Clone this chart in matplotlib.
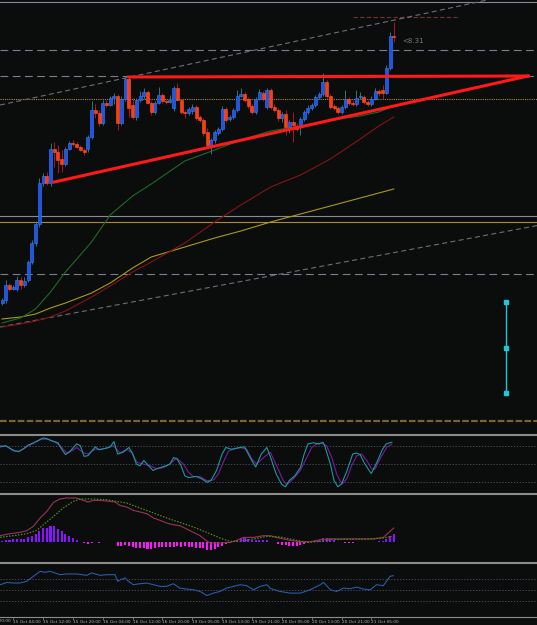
import matplotlib
matplotlib.use("Agg")
import matplotlib.pyplot as plt
import numpy as np

opens = [303, 300, 285, 289, 289, 280, 285, 280, 262, 243,
         224, 183, 176, 183, 149, 152, 159, 164, 149, 143,
         144, 147, 150, 149, 137, 110, 113, 123, 103, 105,
         98, 96, 123, 99, 79, 105, 117, 100, 96, 92,
         103, 112, 103, 95, 101, 102, 108, 88, 100, 112,
         113, 111, 107, 117, 120, 132, 145, 140, 133, 129,
         109, 119, 117, 110, 96, 94, 99, 106, 112, 99,
         93, 107, 90, 107, 110, 118, 114, 127, 122, 126,
         127, 119, 112, 108, 105, 97, 94, 82, 96, 106,
         108, 112, 107, 99, 103, 104, 97, 97, 102, 104,
         99, 91, 90, 93, 68, 36]
closes = [300, 285, 289, 287, 280, 285, 281, 262, 243, 224,
          183, 176, 183, 149, 152, 160, 164, 149, 143, 144,
          147, 150, 152, 137, 110, 113, 123, 103, 105, 98,
          96, 123, 99, 79, 108, 117, 100, 96, 92, 103,
          112, 103, 95, 101, 102, 100, 88, 100, 112, 113,
          109, 107, 118, 120, 133, 145, 140, 132, 129, 109,
          120, 117, 110, 96, 94, 100, 106, 112, 99, 92,
          99, 90, 107, 110, 118, 114, 127, 122, 125, 129,
          119, 112, 108, 105, 97, 94, 82, 96, 107, 108,
          112, 107, 99, 103, 104, 98, 96, 102, 104, 99,
          91, 93, 93, 68, 36, 37]
highs = [298, 280, 283, 285, 276, 277, 277, 260, 240, 221,
         178, 173, 172, 143, 142, 145, 150, 147, 141, 140,
         142, 145, 148, 135, 101, 104, 110, 100, 100, 96,
         93, 94, 96, 76, 76, 98, 98, 91, 88, 90,
         101, 101, 87, 93, 99, 95, 86, 83, 99, 110,
         107, 104, 105, 115, 118, 128, 138, 130, 127, 106,
         107, 115, 108, 90, 88, 92, 97, 104, 97, 89,
         91, 88, 88, 104, 108, 112, 110, 120, 112, 123,
         117, 110, 105, 103, 95, 92, 73, 80, 94, 104,
         106, 105, 90, 97, 100, 90, 92, 95, 100, 96,
         88, 89, 85, 65, 32, 22]
lows = [305, 303, 291, 290, 291, 289, 287, 282, 264, 246,
        227, 186, 185, 186, 167, 173, 172, 166, 150, 146,
        148, 151, 155, 152, 139, 118, 126, 125, 107, 106,
        104, 130, 125, 101, 117, 119, 120, 102, 99, 104,
        115, 114, 104, 103, 104, 103, 111, 101, 114, 118,
        115, 114, 120, 122, 136, 148, 154, 143, 135, 131,
        122, 121, 119, 112, 97, 102, 108, 114, 114, 100,
        101, 109, 109, 112, 121, 122, 135, 133, 142, 131,
        135, 121, 114, 110, 107, 99, 96, 98, 109, 110,
        114, 114, 109, 105, 106, 106, 99, 104, 106, 106,
        100, 96, 99, 94, 70, 42]

tick_bars = [3, 11, 19, 27, 35, 43, 51, 59, 67, 75, 83, 91, 99]
tick_labels = ["15 Oct 04:00", "15 Oct 12:00", "15 Oct 20:00", "16 Oct 04:00",
               "16 Oct 12:00", "16 Oct 20:00", "19 Oct 05:00", "19 Oct 13:00",
               "19 Oct 21:00", "20 Oct 05:00", "20 Oct 13:00", "20 Oct 21:00",
               "21 Oct 05:00"]

# moving averages (bar, level)
ma_bars = [0, 5, 9, 13, 17, 24, 29, 35, 40, 49, 57, 64, 72, 80, 88, 96, 101, 105]
ma_fast = [323, 318, 309, 292, 272, 242, 215, 196, 184, 161, 150, 140, 131, 126, 120, 116, 112, 106]
ma_mid = [327, 324, 321, 317, 311, 297, 286, 272, 262, 243, 222, 205, 187, 175, 159, 139, 126, 117]
ma_slow = [319, 317, 314, 308, 303, 293, 283, 268, 257, 247, 238, 231, 222, 214, 206, 198, 193, 189]

# drawn objects (bar, level)
triangle_top = [(34, 77), (141, 76)]
triangle_low = [(14, 182), (141, 76)]
channel_up = [(0, 104.6), (120, 8.1)]
channel_low = [(0, 326.6), (140, 228)]
hl_gray_dash = [50, 76, 274]
hl_gray = [1.5, 216]
hl_orange = 222
hl_orange_dot = 99
hl_brown = 421
marker_bar = 135
marker_levels = [302, 348, 393]

# stochastic
stoch_x = [-0.5, 1, 2, 3.5, 4.5, 6, 7, 8.5, 10, 11, 12, 13, 15, 16, 17, 18, 20, 21, 22, 23,
           25, 26, 28, 29, 30, 31, 32.5, 34, 35, 36, 37, 38, 39, 40.5, 41.5, 42.5, 44, 45, 46, 47,
           48, 49, 50, 52, 53.5, 55, 56, 57.5, 59, 60, 61.5, 63, 65, 66, 67.5, 68, 69.5, 71, 72, 73.5,
           75, 76, 77, 78.5, 80, 81, 82, 83.5, 85, 86, 86.5, 88, 89, 90, 91, 92.5, 94, 95, 96, 97,
           98.5, 99, 100.5, 102, 103, 104.5]
stoch_main = [79, 81, 77, 72, 71, 77, 82, 86, 91, 94, 93, 90, 86, 75, 66, 70, 84, 81, 63, 64,
              79, 74, 77, 79, 88, 67, 70, 78, 68, 50, 47, 56, 49, 39, 42, 44, 47, 50, 61, 58,
              47, 30, 27, 29, 25, 19, 22, 39, 67, 78, 75, 77, 79, 67, 50, 45, 67, 78, 61, 33,
              15, 11.5, 22, 30, 44, 67, 84, 86, 84, 87, 81, 50, 22, 11.5, 16, 39, 67, 68.5, 66, 53,
              38, 34, 53, 75, 84, 87]
sig_x = [-0.5, 1.3, 3, 4.8, 6.6, 8.4, 10.6, 12.4, 14.2, 15.5, 17.3, 18.7, 20, 21.8, 23.1, 24.9, 26.3,
         28.1, 29.8, 31.6, 33.4, 34.8, 36.1, 37.9, 39.7, 41.5, 43.3, 45, 46.8, 48.6, 50, 51.3, 53.1,
         54.9, 56.7, 58, 59.3, 60.7, 62, 63.8, 65.6, 67, 68.3, 70.1, 71.9, 73.6, 75.4, 76.3, 78.1,
         79.9, 81.7, 83, 84.4, 85.7, 87, 88.4, 89.7, 91.1, 92.4, 93.7, 95.1, 96.4, 97.8, 99.1, 100,
         101.3, 103.1, 104.5]
stoch_sig = [81, 80, 72, 72, 79, 85, 92, 92, 87, 81, 69, 72, 78, 69, 67, 75, 75, 77, 81, 69,
             75, 69, 53, 50, 47, 42, 44, 50, 60, 50, 36, 28.6, 28.6, 21.8, 23, 33, 53, 72, 75, 78,
             75, 58, 50, 61, 70, 47, 21.8, 15, 25, 38.7, 61, 78, 83.9, 85, 81, 61, 33, 16, 24.6, 47,
             64, 67, 55.7, 41.5, 41.5, 58.5, 78, 83.9]

# MACD
macd_x = [-0.5, 2.1, 4.8, 6.6, 8.4, 10.2, 12, 13.8, 15.5, 17.3, 20, 21.8, 23.1, 24.5, 26.3, 29, 30.3,
          31.6, 33.4, 35.2, 37, 38.8, 40.6, 42.4, 44.1, 45.9, 47.7, 49.5, 51.3, 53.1, 54.4, 55.8, 58.4,
          61.1, 62.9, 64.7, 67.4, 70.1, 71.9, 73.6, 76.3, 79.9, 82.6, 85.3, 88, 90.6, 96, 99.6, 102.2,
          104, 105]
macd_line = [6, 8, 9.3, 11, 15.3, 23.7, 30.3, 39.3, 42.7, 43.7, 43.7, 41.3, 39.7, 41.3, 41.3, 40.3,
             39.7, 36.3, 34.7, 31.3, 29.7, 28, 23.7, 21.3, 18.7, 17, 16, 12.7, 9.3, 6, 2, -1.3, -1.3,
             -0.7, 1.3, 4.3, 4.3, 6, 6, 4.3, 2, 0, 0, 2, 3, 2.7, 2.7, 2.7, 4.3, 10.3, 13.7]
msig_x = [-0.5, 3, 6.6, 9.3, 11.1, 13.8, 16.4, 19.1, 20.9, 24.5, 28.1, 30.7, 33.4, 37, 40.6, 44.1,
          47.7, 51.3, 54.9, 58.4, 61.1, 63.8, 67.4, 71, 74.5, 78.1, 81.7, 85.3, 88.8, 92.4, 97.8,
          102.2, 104.5]
macd_sig = [4.3, 6, 8, 11.3, 17, 25.3, 33.7, 40.3, 42.7, 42.7, 42, 40.3, 38.7, 33.7, 28.7, 23.7,
            19.3, 14.7, 9.3, 3.7, 0.3, 0.3, 2.7, 5.3, 4.7, 2, -0.7, 0.3, 2, 2.7, 2.7, 3.7, 5.3]
macd_hist = [0.5, 1.3, 2, 2.7, 2.7, 3, 3, 4.3, 5.3, 8,
             11, 13.7, 13.7, 15.7, 16, 13, 10.3, 8, 6, 3.7,
             2, 0, -1.3, -2.3, -1.3, -0.7, -1.3, -0.7, -0.7, -0.7,
             -0.7, -4, -4, -3, -4, -5.3, -6.3, -6.3, -6.3, -7,
             -7, -6.3, -5.7, -5.7, -5.3, -5.7, -5.3, -4.7, -5.3, -4.7,
             -5.3, -5.7, -6.3, -6.3, -6.7, -8.7, -8.7, -7.3, -5.7, -4,
             -2.3, -1.3, 0, 2, 3.3, 4.3, 2.7, 2, 2, 1.7,
             1.7, 1.3, 0, -0.7, -2.3, -3, -3.7, -4, -4, -4,
             -3.3, -2.3, -1.3, -0.7, 1, 2, 3.7, 3.7, 2.7, 1.3,
             -0.7, -0.7, -1.3, -1.3, -1.3, -0.7, -0.7, -0.7, -0.7, -0.3,
             0, 0.3, 1, 2.7, 5.3, 8]

# RSI
rsi_x = [-0.5, 1.3, 3, 4.8, 6.6, 8.4, 10.2, 11.5, 12.9, 14.2, 15.5, 17.3, 20, 22.7, 24, 26.3, 28.1,
         30.3, 31, 31.8, 33, 33.9, 35.2, 37, 38.8, 40.6, 42.4, 44.1, 45.9, 47.7, 49.5, 51.3, 53.1,
         54.9, 56.7, 58.4, 60.2, 62, 63.8, 65.6, 67.4, 69.2, 71, 71.9, 74.5, 77.2, 80, 82.6, 85.3,
         86.2, 88, 89.7, 91.5, 93.3, 95.1, 96.9, 98.7, 100.4, 102.2, 104, 104.9]
rsi_v = [60, 64.4, 63.2, 63.2, 66.3, 75.8, 85.3, 83.4, 85.3, 82.2, 79, 80.3, 80.3, 77.7, 82.2, 77.7,
         79, 79, 66.3, 69.5, 72.7, 66.3, 60, 61.9, 63.2, 60, 56.8, 56.8, 61.9, 53.6, 51.7, 50.5, 47.3,
         39.6, 44.2, 47.3, 53.6, 56.8, 60, 58.1, 50.5, 56.8, 60, 53, 47.3, 44.2, 44.2, 50.5, 60, 64.4,
         50.5, 47.3, 53.6, 52.4, 55.5, 51.7, 50.5, 60, 58.1, 75.8, 77.1]

BG = "#0b0c0c"
SEP = "#8c8c8c"
H = 625.0
XLIM = (-0.54, 143.4)

fig = plt.figure(figsize=(5.37, 6.25), dpi=100, facecolor=BG)


def panel(top, bottom):
    ax = fig.add_axes([0, 1 - bottom / H, 1, (bottom - top) / H])
    ax.set_facecolor(BG)
    ax.set_xlim(*XLIM)
    ax.set_xticks([])
    ax.set_yticks([])
    for s in ax.spines.values():
        s.set_visible(False)
    return ax


# ---------------- main price panel ----------------
ax = panel(0, 433)
ax.set_ylim(433, 0)

for y in hl_gray:
    ax.axhline(y, color="#8a8a94", lw=0.8, zorder=1)
for y in hl_gray_dash:
    ax.axhline(y, color="#7c7c8c", lw=0.8, dashes=(7, 4), zorder=1)
ax.axhline(hl_orange, color="#b08a2c", lw=0.8, zorder=1)
ax.axhline(hl_orange_dot, color="#a88a48", lw=0.8, dashes=(1, 1), zorder=1)
ax.axhline(hl_brown, color="#7a6238", lw=1.6, dashes=(3, 1), zorder=1)
ax.hlines(17, 94, 122, color="#6e3434", lw=0.8, linestyles=(0, (4, 2)), zorder=1)

ax.axline(*channel_up, color="#6e6e7c", lw=0.8, dashes=(4.5, 3), zorder=1)
ax.axline(*channel_low, color="#6e6e7c", lw=0.8, dashes=(4.5, 3), zorder=1)

ax.plot(ma_bars, ma_slow, color="#a89a1c", lw=0.8, zorder=2)
ax.plot(ma_bars, ma_mid, color="#861414", lw=0.8, zorder=2)
ax.plot(ma_bars, ma_fast, color="#1f6a24", lw=0.8, zorder=2)

o = np.array(opens, float)
c = np.array(closes, float)
idx = np.arange(len(o))
up = c <= o
body_lo = np.minimum(o, c)
body_h = np.maximum(np.abs(o - c), 0.8)
ax.vlines(idx[up], np.array(highs)[up], np.array(lows)[up], color="#2a7a74", lw=0.7, zorder=3)
ax.vlines(idx[~up], np.array(highs)[~up], np.array(lows)[~up], color="#b01818", lw=0.7, zorder=3)
ax.bar(idx[up], body_h[up], bottom=body_lo[up], width=0.8, color="#1d55e8",
       edgecolor="#3a78ff", lw=0.4, zorder=4)
ax.bar(idx[~up], body_h[~up], bottom=body_lo[~up], width=0.8, color="#ff3a14",
       edgecolor="#ff5a20", lw=0.4, zorder=4)

(tx0, ty0), (tx1, ty1) = triangle_top
ax.plot([tx0, tx1], [ty0, ty1], color="#ff1a1a", lw=2.2, zorder=5)
(lx0, ly0), (lx1, ly1) = triangle_low
ax.plot([lx0, lx1], [ly0, ly1], color="#ff1a1a", lw=2.2, zorder=5)

ax.plot([marker_bar] * 3, marker_levels, color="#1ec8d4", lw=1, marker="s", ms=3, zorder=5)
ax.text(107.3, 41, "<8.31", color="#7a7a7a", fontsize=5, va="center", ha="left")

# ---------------- stochastic ----------------
ax_st = panel(434.5, 493.5)
ax_st.set_ylim(0, 100)
for lv in (80, 50, 20):
    ax_st.axhline(lv, color="#55556a", lw=0.6, dashes=(1.5, 2))
ax_st.plot(sig_x, stoch_sig, color="#7a1aa0", lw=0.8)
ax_st.plot(stoch_x, stoch_main, color="#1a9a9c", lw=0.8)
ax_st.spines["top"].set_visible(True)
ax_st.spines["top"].set_color(SEP)
ax_st.spines["top"].set_linewidth(1.5)

# ---------------- MACD ----------------
ax_m = panel(493.5, 562.5)
ax_m.set_ylim(-20.8, 48.2)
hist = np.array(macd_hist)
hx = np.arange(len(hist))
ax_m.bar(hx[hist >= 0], hist[hist >= 0], width=0.55, color="#8a14ff", zorder=2)
ax_m.bar(hx[hist < 0], hist[hist < 0], width=0.55, color="#ff14ff", zorder=2)
ax_m.plot(macd_x, macd_line, color="#9a3454", lw=0.8, zorder=3)
ax_m.plot(msig_x, macd_sig, color="#4e8c1a", lw=0.9, dashes=(1.2, 1.2), zorder=3)
ax_m.spines["top"].set_visible(True)
ax_m.spines["top"].set_color(SEP)
ax_m.spines["top"].set_linewidth(1.5)

# ---------------- RSI ----------------
ax_r = panel(563, 616.5)
ax_r.set_ylim(0, 101)
for lv in (70, 50, 30):
    ax_r.axhline(lv, color="#55556a", lw=0.6, dashes=(1.5, 2))
ax_r.plot(rsi_x, rsi_v, color="#2a5aa8", lw=0.8)
ax_r.spines["top"].set_visible(True)
ax_r.spines["top"].set_color(SEP)
ax_r.spines["top"].set_linewidth(1.5)
ax_r.spines["bottom"].set_visible(True)
ax_r.spines["bottom"].set_color(SEP)
ax_r.spines["bottom"].set_linewidth(0.8)
ax_r.set_xticks(tick_bars)
ax_r.set_xticklabels(tick_labels, ha="left", fontsize=3.1, color="#b4b4b4")
ax_r.tick_params(axis="x", length=2, width=0.5, color=SEP, pad=0.6)
ax_r.text(-5, -0.09, "14 Oct 20:00", transform=ax_r.get_xaxis_transform(),
          ha="left", va="center", fontsize=3.1, color="#b4b4b4", clip_on=False)

fig.savefig("out.png", dpi=100, facecolor=BG)
